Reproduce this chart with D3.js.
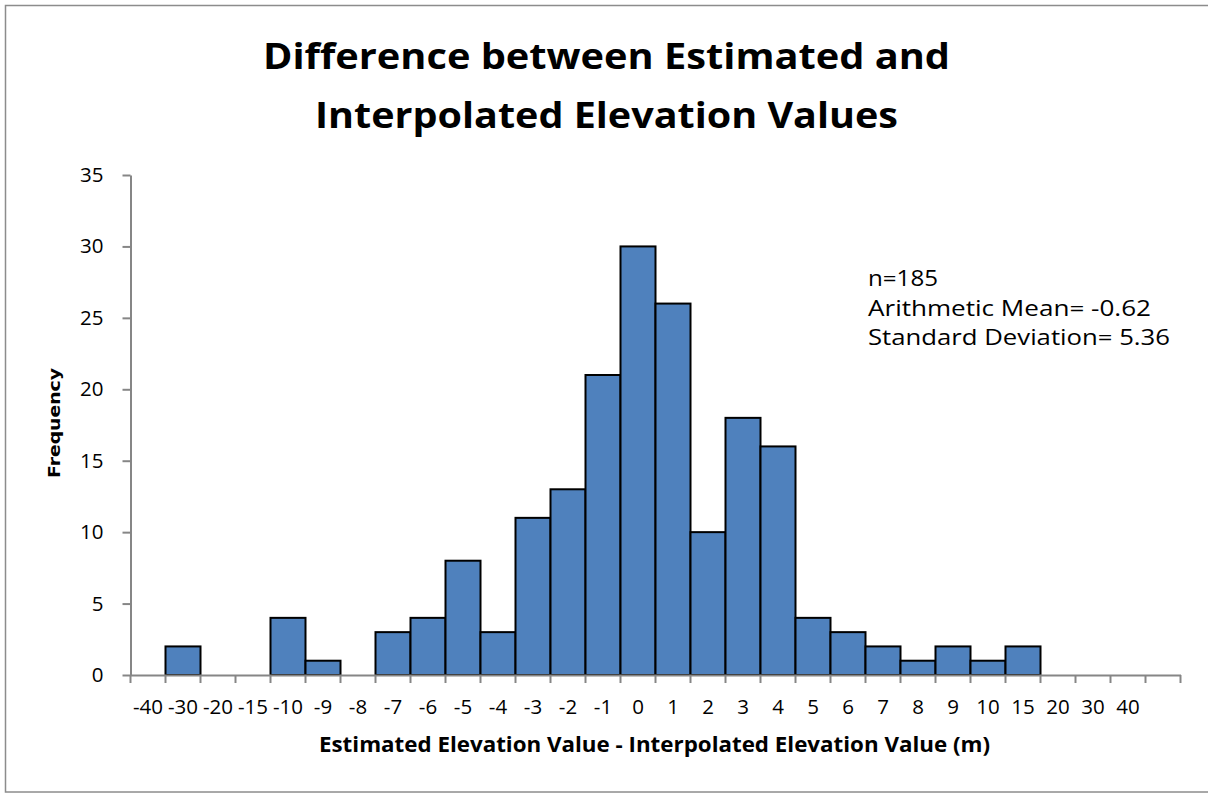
<!DOCTYPE html>
<html>
<head>
<meta charset="utf-8">
<script src="https://cdn.jsdelivr.net/npm/d3@7"></script>
<style>
  html, body { margin: 0; padding: 0; background: #fff; }
  svg { display: block; }
  .tick text { font-family: "Open Sans", "Noto Sans", sans-serif; }
</style>
</head>
<body>
<svg id="chart" width="1208" height="793"></svg>
<script>
// Histogram bins (the last bin carries no label)
const bins = ["-40", "-30", "-20", "-15", "-10", "-9", "-8", "-7", "-6", "-5",
              "-4", "-3", "-2", "-1", "0", "1", "2", "3", "4", "5",
              "6", "7", "8", "9", "10", "15", "20", "30", "40", ""];
const frequency = [0, 2, 0, 0, 4, 1, 0, 3, 4, 8,
                   3, 11, 13, 21, 30, 26, 10, 18, 16, 4,
                   3, 2, 1, 2, 1, 2, 0, 0, 0, 0];
const yTicks = [0, 5, 10, 15, 20, 25, 30, 35];
const titleLines = ["Difference between Estimated and", "Interpolated Elevation Values"];
const statsLines = ["n=185", "Arithmetic Mean= -0.62", "Standard Deviation= 5.36"];
const xTitle = "Estimated Elevation Value - Interpolated Elevation Value (m)";
const yTitle = "Frequency";

const svg = d3.select("#chart");
const font = '"Open Sans", "Noto Sans", sans-serif';
const axisGrey = "#868686";

// Chart frame
svg.append("rect")
  .attr("x", 5.5).attr("y", 5.5)
  .attr("width", 1210).attr("height", 786.5)
  .attr("fill", "#fff")
  .attr("stroke", "#8c8c8c").attr("stroke-width", 1.5);

const x = d3.scaleBand().domain(bins).range([130.5, 1180.5]).padding(0);
const y = d3.scaleLinear().domain([0, 35]).range([675, 175]);

// Bars
svg.append("g").selectAll("rect")
  .data(bins.map((b, i) => ({ bin: b, value: frequency[i] })).filter(d => d.value > 0))
  .join("rect")
  .attr("x", d => x(d.bin))
  .attr("y", d => y(d.value))
  .attr("width", x.bandwidth())
  .attr("height", d => y(0) - y(d.value))
  .attr("fill", "#4F81BD")
  .attr("stroke", "#000")
  .attr("stroke-width", 2);

// Y axis
const yAxis = svg.append("g")
  .attr("transform", `translate(${x.range()[0]},0)`)
  .call(d3.axisLeft(y).tickValues(yTicks).tickSizeInner(8).tickSizeOuter(0).tickPadding(19));
yAxis.select(".domain").attr("stroke", axisGrey).attr("stroke-width", 2);
yAxis.selectAll(".tick line").attr("stroke", axisGrey).attr("stroke-width", 2);
yAxis.selectAll(".tick text")
  .attr("fill", "#000").attr("font-size", 20.5);

// X axis: labels centred in each bin, tick marks on the bin edges
const xAxis = svg.append("g")
  .attr("transform", `translate(0,${y(0)})`)
  .call(d3.axisBottom(x).tickSizeInner(0).tickSizeOuter(0).tickPadding(24));
xAxis.select(".domain").attr("stroke", axisGrey).attr("stroke-width", 2);
xAxis.selectAll(".tick line").remove();
xAxis.selectAll(".tick text")
  .attr("fill", "#000").attr("font-size", 20.5).attr("dy", "0.71em");

const edges = bins.map(b => x(b)).concat([x.range()[1]]);
xAxis.append("g").selectAll("line")
  .data(edges)
  .join("line")
  .attr("x1", d => d).attr("x2", d => d)
  .attr("y1", 0).attr("y2", 8)
  .attr("stroke", axisGrey).attr("stroke-width", 2);

// Title
svg.append("g").selectAll("text")
  .data(titleLines)
  .join("text")
  .attr("x", 606.5)
  .attr("y", (d, i) => 69 + i * 58.5)
  .attr("text-anchor", "middle")
  .attr("font-family", font)
  .attr("font-weight", "bold")
  .attr("font-size", 36)
  .attr("textLength", (d, i) => [687, 583][i])
  .attr("lengthAdjust", "spacingAndGlyphs")
  .attr("fill", "#000")
  .text(d => d);

// Summary statistics
svg.append("g").selectAll("text")
  .data(statsLines)
  .join("text")
  .attr("x", 868)
  .attr("y", (d, i) => 286 + i * 29.5)
  .attr("font-family", font)
  .attr("font-size", 21.5)
  .attr("textLength", (d, i) => [70, 283, 302][i])
  .attr("lengthAdjust", "spacingAndGlyphs")
  .attr("fill", "#000")
  .text(d => d);

// Axis titles
svg.append("text")
  .attr("x", 654.5).attr("y", 752)
  .attr("text-anchor", "middle")
  .attr("font-family", font)
  .attr("font-weight", "bold")
  .attr("font-size", 20.5)
  .attr("textLength", 671)
  .attr("lengthAdjust", "spacingAndGlyphs")
  .attr("fill", "#000")
  .text(xTitle);

svg.append("text")
  .attr("transform", "translate(60,423) rotate(-90)")
  .attr("text-anchor", "middle")
  .attr("font-family", '"DejaVu Sans", Verdana, sans-serif')
  .attr("font-weight", "bold")
  .attr("font-size", 16)
  .attr("textLength", 110)
  .attr("lengthAdjust", "spacingAndGlyphs")
  .attr("fill", "#000")
  .text(yTitle);
</script>
</body>
</html>
